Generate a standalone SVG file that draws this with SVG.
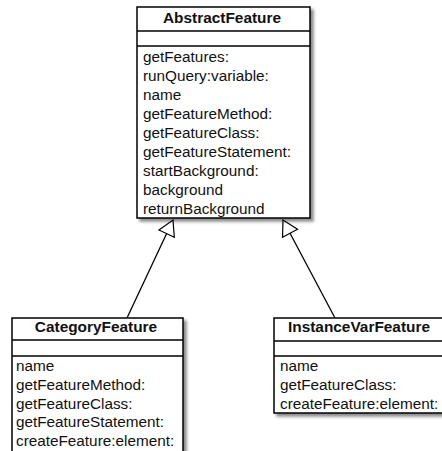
<svg xmlns="http://www.w3.org/2000/svg" width="442" height="451" viewBox="0 0 442 451">
  <defs>
    <filter id="shadow" x="-10%" y="-10%" width="130%" height="130%">
      <feDropShadow dx="3" dy="3" stdDeviation="1.4" flood-color="#000" flood-opacity="0.45"/>
    </filter>
    <marker id="inherit" markerUnits="userSpaceOnUse" markerWidth="20" markerHeight="20" refX="15" refY="8.5" orient="auto" overflow="visible">
      <path d="M0,0 L15,8.5 L0,17 Z" fill="#fff" stroke="#000" stroke-width="1.2"/>
    </marker>
    <style>
      .box { fill: #fff; stroke: #000; stroke-width: 1.5; filter: url(#shadow); }
      .div { stroke: #000; stroke-width: 1.4; }
      .title { font-family: "Liberation Sans", Arial, sans-serif; font-size: 15.4px; font-weight: bold; fill: #111; text-anchor: middle; }
      .item { font-family: "Liberation Sans", Arial, sans-serif; font-size: 15.3px; fill: #111; }
      .edge { stroke: #000; stroke-width: 1.3; fill: none; marker-end: url(#inherit); }
    </style>
  </defs>

  <g id="connectors">
    <line class="edge" x1="127" y1="318" x2="173" y2="220"/>
    <line class="edge" x1="335" y1="318" x2="283" y2="220"/>
  </g>

  <g id="AbstractFeature">
    <rect class="box" x="137" y="7" width="173" height="211"/>
    <line class="div" x1="137" y1="31" x2="310" y2="31"/>
    <line class="div" x1="137" y1="46" x2="310" y2="46"/>
    <text class="title" x="222" y="23">AbstractFeature</text>
    <text class="item" x="143" y="62">getFeatures:</text>
    <text class="item" x="143" y="81">runQuery:variable:</text>
    <text class="item" x="143" y="100">name</text>
    <text class="item" x="143" y="119">getFeatureMethod:</text>
    <text class="item" x="143" y="138">getFeatureClass:</text>
    <text class="item" x="143" y="157">getFeatureStatement:</text>
    <text class="item" x="143" y="176">startBackground:</text>
    <text class="item" x="143" y="195">background</text>
    <text class="item" x="143" y="214">returnBackground</text>
  </g>

  <g id="CategoryFeature">
    <rect class="box" x="12" y="318" width="171" height="150"/>
    <line class="div" x1="12" y1="340" x2="183" y2="340"/>
    <line class="div" x1="12" y1="356" x2="183" y2="356"/>
    <text class="title" x="96" y="332">CategoryFeature</text>
    <text class="item" x="16" y="371">name</text>
    <text class="item" x="16" y="390">getFeatureMethod:</text>
    <text class="item" x="16" y="408.5">getFeatureClass:</text>
    <text class="item" x="16" y="427">getFeatureStatement:</text>
    <text class="item" x="16" y="446">createFeature:element:</text>
  </g>

  <g id="InstanceVarFeature">
    <rect class="box" x="274" y="318" width="170" height="95"/>
    <line class="div" x1="274" y1="341" x2="444" y2="341"/>
    <line class="div" x1="274" y1="356" x2="444" y2="356"/>
    <text class="title" x="359" y="332">InstanceVarFeature</text>
    <text class="item" x="280" y="371">name</text>
    <text class="item" x="280" y="390">getFeatureClass:</text>
    <text class="item" x="280" y="408.5">createFeature:element:</text>
  </g>
</svg>
